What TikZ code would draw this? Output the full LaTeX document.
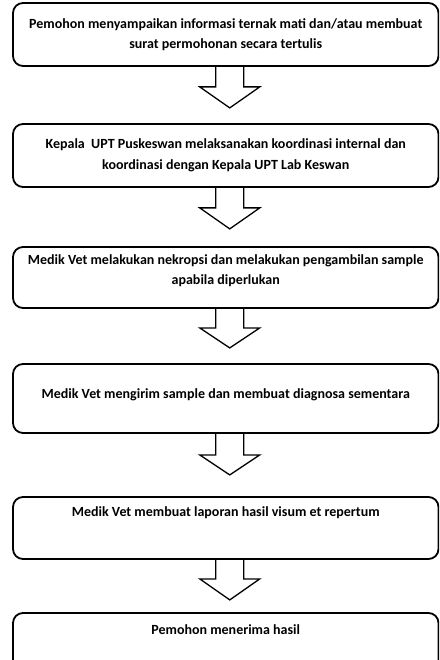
\documentclass[tikz,border=0pt]{standalone}
\usepackage{fontspec}
\setmainfont{Carlito}
\usetikzlibrary{positioning, calc}

\begin{document}
\begin{tikzpicture}[
    x=1pt, y=1pt,
    box/.style={
        draw, rounded corners=10pt, minimum width=425.5pt, minimum height=63pt,
        align=center, font=\fontsize{14}{20.5}\selectfont\bfseries, line width=1.8pt,
        inner sep=4pt
    },
    blockarrow/.style={
        draw, line width=1.3pt, line join=miter
    },
]
\clip (0,0) rectangle (439,-660);

% ── Steps ──
\node[box] (lapor) at (225.75,-34.5)
    {Pemohon menyampaikan informasi ternak mati dan/atau membuat\\
     surat permohonan secara tertulis};

\node[box, below=56.2pt of lapor] (koord)
    {Kepala\ \ UPT Puskeswan melaksanakan koordinasi internal dan\\
     koordinasi dengan Kepala UPT Lab Keswan};

\node[box, minimum height=61pt, text depth=16pt, below=58.2pt of koord] (nekropsi)
    {Medik Vet melakukan nekropsi dan melakukan pengambilan sample\\
     apabila diperlukan};

\node[box, minimum height=69pt, text depth=10pt, below=54.2pt of nekropsi] (kirim)
    {Medik Vet mengirim sample dan membuat diagnosa sementara};

\node[box, minimum height=62pt, text depth=33pt, below=62.2pt of kirim] (visum)
    {Medik Vet membuat laporan hasil visum et repertum};

\node[box, minimum height=62pt, text depth=28pt, below=52.2pt of visum] (hasil)
    {Pemohon menerima hasil};

% ── Block arrows ──
\draw[blockarrow] ($(lapor.south)+(-10,0)$) -- ++(0,-20) -- ++(-16,0)
    -- ++(30,-21) -- ++(30,21) -- ++(-16,0) -- ++(0,20);
\draw[blockarrow] ($(koord.south)+(-10,0)$) -- ++(0,-20) -- ++(-16,0)
    -- ++(30,-21) -- ++(30,21) -- ++(-16,0) -- ++(0,20);
\draw[blockarrow] ($(nekropsi.south)+(-10,0)$) -- ++(0,-19) -- ++(-16,0)
    -- ++(30,-20) -- ++(30,20) -- ++(-16,0) -- ++(0,19);
\draw[blockarrow] ($(kirim.south)+(-10,0)$) -- ++(0,-21) -- ++(-16,0)
    -- ++(30,-20) -- ++(30,20) -- ++(-16,0) -- ++(0,21);
\draw[blockarrow] ($(visum.south)+(-10,0)$) -- ++(0,-19) -- ++(-16,0)
    -- ++(30,-21) -- ++(30,21) -- ++(-16,0) -- ++(0,19);

\end{tikzpicture}
\end{document}
